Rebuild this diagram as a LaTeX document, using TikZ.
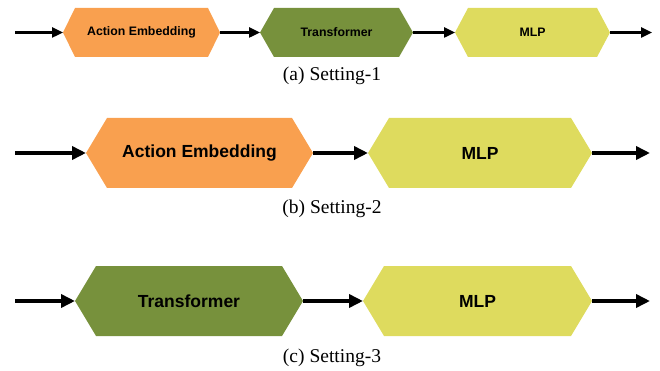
\documentclass[tikz,border=0pt]{standalone}
\usepackage{fontspec}
\setmainfont{Liberation Serif}
\newfontfamily\boxfont{Liberation Sans}
\usetikzlibrary{arrows.meta}

\definecolor{embedorange}{HTML}{F9A04F}
\definecolor{transolive}{HTML}{77913C}
\definecolor{mlpyellow}{HTML}{DEDB5E}

\tikzset{
  % hexagonal block: #1 fill colour, #2 slant of the pointed ends
  hexblock/.style n args={2}{
    shape=rectangle, inner sep=0pt, outer sep=0pt,
    font=\boxfont\bfseries,
    path picture={
      \fill[#1] (path picture bounding box.west)
        -- ([xshift=#2]path picture bounding box.north west)
        -- ([xshift=-#2]path picture bounding box.north east)
        -- (path picture bounding box.east)
        -- ([xshift=-#2]path picture bounding box.south east)
        -- ([xshift=#2]path picture bounding box.south west)
        -- cycle;
    }
  },
  smallrow/.style={minimum height=49pt, font=\boxfont\bfseries\fontsize{12.3}{14}\selectfont},
  bigrow/.style={minimum height=70pt, font=\boxfont\bfseries\fontsize{17.5}{20}\selectfont},
  thinflow/.style={line width=2.4pt, -{Triangle[length=11pt,width=10pt]}},
  thickflow/.style={line width=3.6pt, -{Triangle[length=14pt,width=13pt]}},
  caption/.style={font=\fontsize{19.5}{22}\selectfont, inner sep=0pt}
}

\begin{document}
\begin{tikzpicture}[x=1pt, y=-1pt]
  \useasboundingbox (0,0) rectangle (660,371);

  % ---- (a) Setting-1 ----
  \coordinate (ain) at (15,32.5);
  \node[hexblock={embedorange}{12pt}, smallrow, minimum width=157pt] (aemb) at (141.5,32.5) {Action Embedding};
  \node[hexblock={transolive}{14pt}, smallrow, minimum width=153pt] (atr) at (336.5,32.5) {Transformer};
  \node[hexblock={mlpyellow}{13pt}, smallrow, minimum width=155pt] (amlp) at (532.5,32.5) {MLP};
  \coordinate (aout) at (652,32.5);
  \draw[thinflow] (ain) -- (aemb.west);
  \draw[thinflow] (aemb.east) -- (atr.west);
  \draw[thinflow] (atr.east) -- (amlp.west);
  \draw[thinflow] (amlp.east) -- (aout);
  \node[caption] (capa) at (332,76) {(a) Setting-1};

  % ---- (b) Setting-2 ----
  \coordinate (bin) at (15,153);
  \node[hexblock={embedorange}{21pt}, bigrow, minimum width=227pt] (bemb) at (199.5,153) {Action Embedding};
  \node[hexblock={mlpyellow}{21pt}, bigrow, minimum width=224pt] (bmlp) at (480,153) {MLP};
  \coordinate (bout) at (650,153);
  \draw[thickflow] (bin) -- (bemb.west);
  \draw[thickflow] (bemb.east) -- (bmlp.west);
  \draw[thickflow] (bmlp.east) -- (bout);
  \node[caption] (capb) at (332,208.5) {(b) Setting-2};

  % ---- (c) Setting-3 ----
  \coordinate (cin) at (15,301);
  \node[hexblock={transolive}{21pt}, bigrow, minimum width=228pt] (ctr) at (189,301) {Transformer};
  \node[hexblock={mlpyellow}{21pt}, bigrow, minimum width=229pt] (cmlp) at (477.5,301) {MLP};
  \coordinate (cout) at (650,301);
  \draw[thickflow] (cin) -- (ctr.west);
  \draw[thickflow] (ctr.east) -- (cmlp.west);
  \draw[thickflow] (cmlp.east) -- (cout);
  \node[caption] (capc) at (332,358) {(c) Setting-3};
\end{tikzpicture}
\end{document}
